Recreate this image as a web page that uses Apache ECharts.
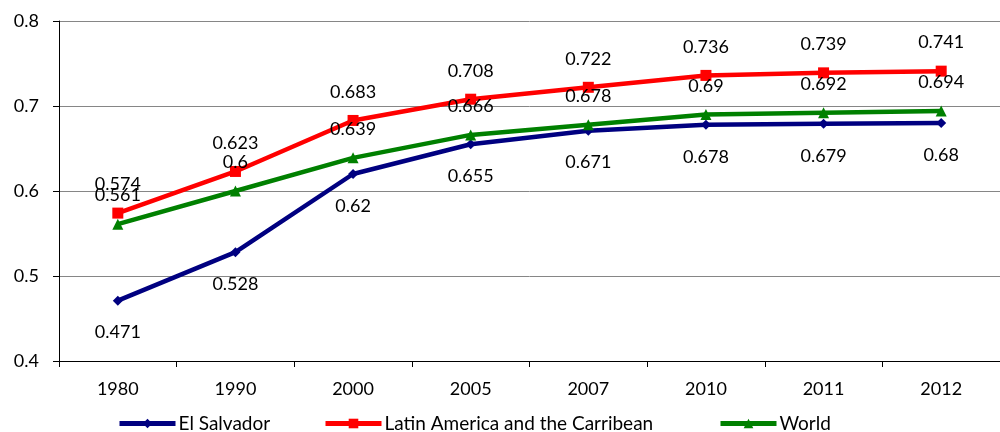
<!DOCTYPE html>
<html><head><meta charset="utf-8">
<script src="https://cdn.jsdelivr.net/npm/echarts@6/dist/echarts.min.js"></script>
<style>html,body{margin:0;padding:0;background:#fff}#c{width:1000px;height:432px}</style>
</head><body><div id="c"></div>
<script>
const categories = ['1980','1990','2000','2005','2007','2010','2011','2012'];
const elSalvador = [0.471,0.528,0.62,0.655,0.671,0.678,0.679,0.68];
const latinAmerica = [0.574,0.623,0.683,0.708,0.722,0.736,0.739,0.741];
const world = [0.561,0.6,0.639,0.666,0.678,0.69,0.692,0.694];
const seriesNames = ['El Salvador','Latin America and the Carribean','World'];

const FONT = 'Lato, "Open Sans", sans-serif';
const chart = echarts.init(document.getElementById('c'), null, {renderer:'canvas'});
const lbl = (pos, d) => ({show:true, position:pos, distance:d, color:'#000', fontSize:18, fontFamily:FONT, formatter: p => String(p.value)});
const legendBase = {top:414, itemWidth:56, itemHeight:12, itemGap:0, padding:0,
  lineStyle:{width:5},
  textStyle:{color:'#000', fontSize:19, fontFamily:FONT, padding:[0,0,0,-2]}};
chart.setOption({
  animation:false,
  color:['#000080','#ff0000','#008000'],
  grid:{left:59, right:0, top:21, bottom:71, containLabel:false},
  legend:[
    Object.assign({left:117, data:[seriesNames[0]]}, legendBase),
    Object.assign({left:323, data:[seriesNames[1]]}, legendBase),
    Object.assign({left:718, data:[seriesNames[2]]}, legendBase)
  ],
  xAxis:{type:'category', data:categories, boundaryGap:true,
    axisLine:{lineStyle:{color:'#000', width:1}},
    axisTick:{show:true, length:6, lineStyle:{color:'#000'}},
    axisLabel:{color:'#000', fontSize:18, fontFamily:FONT, margin:19}},
  yAxis:{type:'value', min:0.4, max:0.8, interval:0.1,
    axisLine:{show:true, lineStyle:{color:'#000', width:1}},
    axisTick:{show:true, length:6, lineStyle:{color:'#000'}},
    splitLine:{lineStyle:{color:'#868686', width:1}},
    axisLabel:{color:'#000', fontSize:18, fontFamily:FONT, margin:20, formatter: v => v.toFixed(1)}},
  series:[
    {name:seriesNames[0], type:'line', data:elSalvador, symbol:'diamond', symbolSize:10,
     lineStyle:{width:4.5, color:'#000080'}, itemStyle:{color:'#000080'}, label:lbl('bottom', 18)},
    {name:seriesNames[1], type:'line', data:latinAmerica, symbol:'rect', symbolSize:11,
     lineStyle:{width:4.5, color:'#ff0000'}, itemStyle:{color:'#ff0000'}, label:lbl('top', 14)},
    {name:seriesNames[2], type:'line', data:world, symbol:'triangle', symbolSize:11,
     lineStyle:{width:4.5, color:'#008000'}, itemStyle:{color:'#008000'}, label:lbl('top', 14)}
  ]
});
</script></body></html>
